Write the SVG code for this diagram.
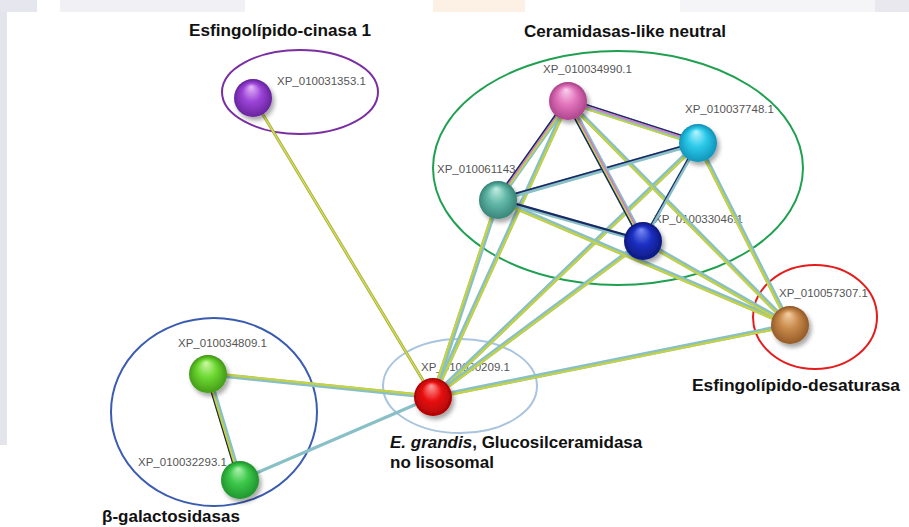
<svg xmlns="http://www.w3.org/2000/svg" xmlns:xlink="http://www.w3.org/1999/xlink" width="909" height="527" viewBox="0 0 909 527">
<defs>
<style>
.tl{stroke:#88c0c6;stroke-linecap:round;fill:none}
.yl{stroke:#c6d23e;stroke-linecap:round;fill:none}
.nv{stroke:#1a2864;stroke-linecap:round;fill:none}
.pk{stroke:#d67ac6;stroke-linecap:round;fill:none}
.bk{stroke:#222222;fill:none}
.ol{stroke:#a2ad38;fill:none}
.grp{fill:none;stroke-width:2}
.lbl{font-family:"Liberation Sans",Arial,sans-serif;font-size:11.5px;fill:#555555}
.ttl{font-family:"Liberation Sans",Arial,sans-serif;font-size:17px;font-weight:bold;fill:#111111}
</style>
<filter id="sh" x="-50%" y="-50%" width="200%" height="200%">
<feDropShadow dx="2.5" dy="3.5" stdDeviation="2.2" flood-color="#000" flood-opacity="0.35"/>
</filter>
<radialGradient id="gP" cx="0.5" cy="0.55" r="0.55" fx="0.45" fy="0.2"><stop offset="0" stop-color="#e4b8f8"/><stop offset="0.45" stop-color="#9c44d8"/><stop offset="1" stop-color="#5c1c90"/></radialGradient>
<radialGradient id="gK" cx="0.5" cy="0.55" r="0.55" fx="0.45" fy="0.2"><stop offset="0" stop-color="#fad0ee"/><stop offset="0.45" stop-color="#e274bc"/><stop offset="1" stop-color="#a23a82"/></radialGradient>
<radialGradient id="gC" cx="0.5" cy="0.55" r="0.55" fx="0.45" fy="0.2"><stop offset="0" stop-color="#b8f4ff"/><stop offset="0.45" stop-color="#2ccaea"/><stop offset="1" stop-color="#0a88b0"/></radialGradient>
<radialGradient id="gT" cx="0.5" cy="0.55" r="0.55" fx="0.45" fy="0.2"><stop offset="0" stop-color="#c4eee2"/><stop offset="0.45" stop-color="#62b8a8"/><stop offset="1" stop-color="#2e7a6e"/></radialGradient>
<radialGradient id="gB" cx="0.5" cy="0.55" r="0.55" fx="0.45" fy="0.2"><stop offset="0" stop-color="#7a8cf4"/><stop offset="0.45" stop-color="#1c30c4"/><stop offset="1" stop-color="#0a1470"/></radialGradient>
<radialGradient id="gO" cx="0.5" cy="0.55" r="0.55" fx="0.45" fy="0.2"><stop offset="0" stop-color="#f4d0a4"/><stop offset="0.45" stop-color="#c88a4c"/><stop offset="1" stop-color="#8a5020"/></radialGradient>
<radialGradient id="gR" cx="0.5" cy="0.55" r="0.55" fx="0.45" fy="0.2"><stop offset="0" stop-color="#ffa0a0"/><stop offset="0.45" stop-color="#ea1212"/><stop offset="1" stop-color="#a00000"/></radialGradient>
<radialGradient id="gG1" cx="0.5" cy="0.55" r="0.55" fx="0.45" fy="0.2"><stop offset="0" stop-color="#d0f8a8"/><stop offset="0.45" stop-color="#6cd832"/><stop offset="1" stop-color="#3a8e10"/></radialGradient>
<radialGradient id="gG2" cx="0.5" cy="0.55" r="0.55" fx="0.45" fy="0.2"><stop offset="0" stop-color="#b0f2b0"/><stop offset="0.45" stop-color="#3cc84a"/><stop offset="1" stop-color="#1a8a28"/></radialGradient>
</defs>

<g id="background">
<rect x="0" y="0" width="909" height="527" fill="#ffffff"/>
<rect x="0" y="0" width="37" height="12" fill="#e6e6ee"/>
<rect x="60" y="0" width="185" height="12" fill="#f1f1f5"/>
<rect x="433" y="0" width="92" height="12" fill="#fdf0e4"/>
<rect x="680" y="0" width="195" height="12" fill="#f5f5f7"/>
<rect x="875" y="0" width="34" height="12" fill="#e8e8ee"/>
<rect x="0" y="12" width="7" height="433" fill="#e4e4ec"/>
</g>

<g id="groups">
<ellipse cx="300" cy="92" rx="78" ry="42" class="grp" stroke="#7a2ea0"/>
<ellipse cx="618" cy="168" rx="185" ry="117" class="grp" stroke="#1fa050"/>
<ellipse cx="815" cy="317" rx="62" ry="52" class="grp" stroke="#e41c1c"/>
<ellipse cx="460" cy="386" rx="77" ry="47" class="grp" stroke="#a8c4de" stroke-width="1.6"/>
<ellipse cx="214" cy="412" rx="103" ry="94" class="grp" stroke="#3a5cb0"/>
</g>

<g id="labels">
<text class="lbl" x="277" y="85">XP_010031353.1</text>
<text class="lbl" x="543" y="73">XP_010034990.1</text>
<text class="lbl" x="685" y="113">XP_010037748.1</text>
<text class="lbl" x="437" y="173">XP_010061143</text>
<text class="lbl" x="654" y="223">XP_010033046.1</text>
<text class="lbl" x="779" y="297">XP_010057307.1</text>
<text class="lbl" x="421" y="371">XP_010030209.1</text>
<text class="lbl" x="178" y="347">XP_010034809.1</text>
<text class="lbl" x="138" y="466">XP_010032293.1</text>
</g>

<g id="connectors">
<g><line x1="253" y1="98" x2="433" y2="397" class="ol" stroke-width="3"/><line x1="253" y1="98" x2="433" y2="397" stroke="#d8e05c" stroke-width="1.3"/></g>
<g><line x1="433" y1="397" x2="208" y2="374" class="tl" stroke-width="4.6"/><line x1="433" y1="397" x2="208" y2="374" class="yl" stroke-width="2.2" transform="translate(0.11,-1.1)"/></g>
<g><line x1="433" y1="397" x2="240" y2="480" class="tl" stroke-width="3.4"/></g>
<g><line x1="208" y1="374" x2="240" y2="480" class="tl" stroke-width="5.4"/><line x1="208" y1="374" x2="240" y2="480" class="yl" stroke-width="2" transform="translate(-0.57,0.17)"/><line x1="208" y1="374" x2="240" y2="480" class="bk" stroke-width="1.1" transform="translate(-2.1,0.63)"/></g>
<g><line x1="433" y1="397" x2="790" y2="325" class="tl" stroke-width="4.6"/><line x1="433" y1="397" x2="790" y2="325" class="yl" stroke-width="2.2" transform="translate(0.22,1.08)"/></g>
<g><line x1="433" y1="397" x2="498" y2="200" class="tl" stroke-width="4.6"/><line x1="433" y1="397" x2="498" y2="200" class="yl" stroke-width="2.2" transform="translate(-1.05,-0.34)"/></g>
<g><line x1="433" y1="397" x2="568" y2="101" class="tl" stroke-width="4.6"/><line x1="433" y1="397" x2="568" y2="101" class="yl" stroke-width="2.2" transform="translate(1,0.46)"/></g>
<g><line x1="433" y1="397" x2="698" y2="143" class="tl" stroke-width="4.6"/><line x1="433" y1="397" x2="698" y2="143" class="yl" stroke-width="2.2" transform="translate(0.76,0.79)"/></g>
<g><line x1="433" y1="397" x2="643" y2="241" class="tl" stroke-width="4.6"/><line x1="433" y1="397" x2="643" y2="241" class="yl" stroke-width="2.2" transform="translate(0.66,0.88)"/></g>
<g><line x1="568" y1="101" x2="790" y2="325" class="tl" stroke-width="4.6"/><line x1="568" y1="101" x2="790" y2="325" class="yl" stroke-width="2.2" transform="translate(-0.78,0.77)"/></g>
<g><line x1="498" y1="200" x2="790" y2="325" class="tl" stroke-width="4.6"/><line x1="498" y1="200" x2="790" y2="325" class="yl" stroke-width="2.2" transform="translate(-0.43,1.01)"/></g>
<g><line x1="698" y1="143" x2="790" y2="325" class="tl" stroke-width="4.6"/><line x1="698" y1="143" x2="790" y2="325" class="yl" stroke-width="2.2" transform="translate(-0.98,0.5)"/></g>
<g><line x1="643" y1="241" x2="790" y2="325" class="tl" stroke-width="4.6"/><line x1="643" y1="241" x2="790" y2="325" class="yl" stroke-width="2.2" transform="translate(-0.55,0.95)"/></g>
<g><line x1="498" y1="200" x2="698" y2="143" class="tl" stroke-width="4.4"/><line x1="498" y1="200" x2="698" y2="143" class="nv" stroke-width="1.6" transform="translate(-0.38,-1.35)"/></g>
<g><line x1="498" y1="200" x2="643" y2="241" class="tl" stroke-width="4.4"/><line x1="498" y1="200" x2="643" y2="241" class="nv" stroke-width="2.2" transform="translate(0.3,-1.05)"/></g>
<g><line x1="698" y1="143" x2="643" y2="241" class="tl" stroke-width="3.6"/><line x1="698" y1="143" x2="643" y2="241" class="nv" stroke-width="1.1" transform="translate(-0.96,-0.54)"/></g>
<g><line x1="568" y1="101" x2="698" y2="143" class="tl" stroke-width="6"/><line x1="568" y1="101" x2="698" y2="143" class="nv" stroke-width="1.6" transform="translate(0.68,-2.1)"/><line x1="568" y1="101" x2="698" y2="143" class="pk" stroke-width="1.5" transform="translate(0.23,-0.7)"/><line x1="568" y1="101" x2="698" y2="143" class="yl" stroke-width="1.6" transform="translate(-0.68,2.1)"/></g>
<g><line x1="568" y1="101" x2="498" y2="200" class="tl" stroke-width="6"/><line x1="568" y1="101" x2="498" y2="200" class="nv" stroke-width="1.6" transform="translate(-1.8,-1.27)"/><line x1="568" y1="101" x2="498" y2="200" class="pk" stroke-width="1.5" transform="translate(-0.6,-0.42)"/><line x1="568" y1="101" x2="498" y2="200" class="yl" stroke-width="1.6" transform="translate(0.6,0.42)"/></g>
<g><line x1="568" y1="101" x2="643" y2="241" class="tl" stroke-width="6"/><line x1="568" y1="101" x2="643" y2="241" class="nv" stroke-width="1.6" transform="translate(-1.94,1.04)"/><line x1="568" y1="101" x2="643" y2="241" class="yl" stroke-width="1.5" transform="translate(-0.65,0.35)"/><line x1="568" y1="101" x2="643" y2="241" class="pk" stroke-width="1.5" transform="translate(0.65,-0.35)"/></g>
</g>

<g id="n-XP_010031353" filter="url(#sh)"><circle cx="253" cy="98" r="19" fill="url(#gP)"/></g>
<g id="n-XP_010034990" filter="url(#sh)"><circle cx="568" cy="101" r="19" fill="url(#gK)"/></g>
<g id="n-XP_010037748" filter="url(#sh)"><circle cx="698" cy="143" r="19" fill="url(#gC)"/></g>
<g id="n-XP_010061143" filter="url(#sh)"><circle cx="498" cy="200" r="19" fill="url(#gT)"/></g>
<g id="n-XP_010033046" filter="url(#sh)"><circle cx="643" cy="241" r="19" fill="url(#gB)"/></g>
<g id="n-XP_010057307" filter="url(#sh)"><circle cx="790" cy="325" r="19" fill="url(#gO)"/></g>
<g id="n-XP_010030209" filter="url(#sh)"><circle cx="433" cy="397" r="19" fill="url(#gR)"/></g>
<g id="n-XP_010034809" filter="url(#sh)"><circle cx="208" cy="374" r="19" fill="url(#gG1)"/></g>
<g id="n-XP_010032293" filter="url(#sh)"><circle cx="240" cy="480" r="19" fill="url(#gG2)"/></g>

<g id="titles">
<text class="ttl" x="189" y="36" textLength="182" lengthAdjust="spacingAndGlyphs">Esfingolípido-cinasa 1</text>
<text class="ttl" x="524" y="37" textLength="202" lengthAdjust="spacingAndGlyphs">Ceramidasas-like neutral</text>
<text class="ttl" x="692" y="391" textLength="208" lengthAdjust="spacingAndGlyphs">Esfingolípido-desaturasa</text>
<text class="ttl" x="390" y="448"><tspan font-style="italic">E. grandis</tspan>, Glucosilceramidasa</text>
<text class="ttl" x="390" y="468">no lisosomal</text>
<text class="ttl" x="102" y="522">β-galactosidasas</text>
</g>
</svg>
